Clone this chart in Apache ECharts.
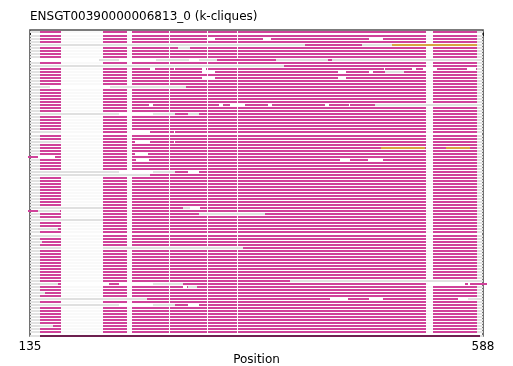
<!DOCTYPE html>
<html>
<head>
<meta charset="utf-8">
<script src="https://cdn.jsdelivr.net/npm/echarts@6/dist/echarts.min.js"></script>
<style>html,body{margin:0;padding:0;background:#fff}#c{width:513px;height:366px}</style>
</head>
<body>
<div id="c"></div>
<script>
// ---- data ----
const titleText = 'ENSGT00390000006813_0 (k-cliques)';
const xName = 'Position';
const xMin = 135, xMax = 588;
const xTickLabels = [135, 588];
const rowCount = 101;
// standard clique blocks shared by (almost) every sequence row
const magentaBlocks = [[145,166],[208,232],[237,582]];
// alignment gap columns
const gapBlocks = [[166,208],[232,237],[274,275],[312,313],[342,343],[531,538]];
// per-row deviations: [row, start, end]
const whiteEdits = [
  [2,312,320],[2,368,376],[2,474,488],
  [9,135,588],
  [12,255,260],[12,279,280],[12,307,311],[12,489,490],[12,517,521],[12,528,542],[12,572,581],
  [13,307,320],[13,443,451],[13,474,478],
  [15,307,320],[15,443,451],
  [18,155,215],
  [24,254,258],[24,324,328],[24,335,350],[24,373,377],[24,430,434],[24,454,455],
  [27,224,258],
  [33,236,255],[33,279,280],
  [36,240,255],[36,279,280],
  [40,240,253],
  [41,143,160],
  [42,241,254],[42,445,455],[42,473,488],
  [46,224,258],[46,293,304],
  [58,295,305],
  [83,166,214],[83,224,258],[83,533,570],[83,573,575],
  [84,288,292],
  [88,435,453],[88,474,488],[88,563,573],
  [90,224,258],[90,293,304]
];
const grayEdits = [
  [4,136,410],[4,467,497],
  [5,283,295],
  [9,204,224],[9,261,294],[9,304,322],[9,381,433],[9,437,588],
  [11,136,389],
  [13,490,509],
  [18,136,155],[18,215,291],
  [24,480,588],
  [27,136,224],[27,258,280],[27,293,304],
  [33,136,166],
  [36,136,166],
  [46,136,224],[46,258,280],
  [47,136,255],
  [58,136,208],[58,288,295],
  [59,143,165],
  [60,304,370],
  [62,136,208],
  [65,136,163],
  [67,136,166],
  [69,136,147],
  [71,136,166],[71,208,348],
  [82,395,588],
  [83,136,163],[83,258,288],
  [84,293,302],
  [86,136,150],
  [88,136,252],[88,573,588],
  [90,136,224],[90,258,280],
  [97,136,158]
];
const magentaEdits = [
  [4,410,467],
  [9,322,381],[9,433,437],
  [27,281,293],
  [46,281,293],
  [59,165,166],
  [83,214,224],[83,570,573],[83,575,592],
  [90,281,293],
  [41,133,143],[59,133,143]
];
const orangeEdits = [[4,497,582],[38,486,530],[38,551,575]];
const darkEdits = [[100,145,585]];

// ---- styles ----
const KIND = {base:0, magenta:1, gap:2, white:3, gray:4, orange:5, dark:6};
const kindColor = ['#e2e2e2','#d0429a','#f9f9f9','#ffffff','#e0e0e0','#d9a441','#6e2050'];

// ---- build drawing items (row by row, in paint order) ----
const items = [];
for (let r = 0; r < rowCount; r++) {
  items.push([xMin, xMax, r, KIND.base]);
  magentaBlocks.forEach(b => items.push([b[0], b[1], r, KIND.magenta]));
  gapBlocks.forEach(b => items.push([b[0], b[1], r, KIND.gap]));
}
whiteEdits.forEach(e => items.push([e[1], e[2], e[0], KIND.white]));
grayEdits.forEach(e => items.push([e[1], e[2], e[0], KIND.gray]));
magentaEdits.forEach(e => items.push([e[1], e[2], e[0], KIND.magenta]));
orangeEdits.forEach(e => items.push([e[1], e[2], e[0], KIND.orange]));
darkEdits.forEach(e => items.push([e[1], e[2], e[0], KIND.dark]));

const chart = echarts.init(document.getElementById('c'), null, {renderer:'canvas'});
const font = 'DejaVu Sans';
chart.setOption({
  animation: false,
  backgroundColor: '#fff',
  title: {
    text: titleText, left: 30, top: 11, padding: 0,
    textStyle: {fontFamily: font, fontSize: 12, fontWeight: 'normal', color: '#000'}
  },
  grid: {left: 30, right: 30, top: 30, bottom: 30, containLabel: false, outerBoundsMode: 'none',
    show: true, borderColor: '#505050', borderWidth: 1.6, backgroundColor: 'transparent'},
  xAxis: {
    type: 'value', min: xMin, max: xMax,
    name: xName, nameLocation: 'middle', nameGap: 18, nameMoveOverlap: false,
    nameTextStyle: {fontFamily: font, fontSize: 12, color: '#000', verticalAlign: 'top'},
    axisLine: {show: false},
    splitLine: {show: false},
    axisTick: {show: true, length: 3.5, lineStyle: {color: '#000', width: 0.8}, customValues: xTickLabels},
    axisLabel: {fontFamily: font, fontSize: 12, color: '#000', margin: 5, customValues: xTickLabels}
  },
  yAxis: {
    type: 'value', min: -0.825, max: 100.165, inverse: true,
    show: false, splitLine: {show: false}
  },
  series: [{
    type: 'custom',
    clip: false,
    data: items,
    encode: {x: [0, 1], y: 2},
    renderItem: function (params, api) {
      const s = api.value(0), e = api.value(1), r = api.value(2), k = api.value(3);
      const p0 = api.coord([s, r]);
      const p1 = api.coord([e, r]);
      const x0 = Math.round(p0[0]), x1 = Math.round(p1[0]);
      const y0 = Math.round(p0[1] - 1);
      return {
        type: 'rect',
        shape: {x: x0, y: y0, width: Math.max(1, x1 - x0), height: 2},
        style: {fill: kindColor[k]}
      };
    }
  }]
});
</script>
</body>
</html>
